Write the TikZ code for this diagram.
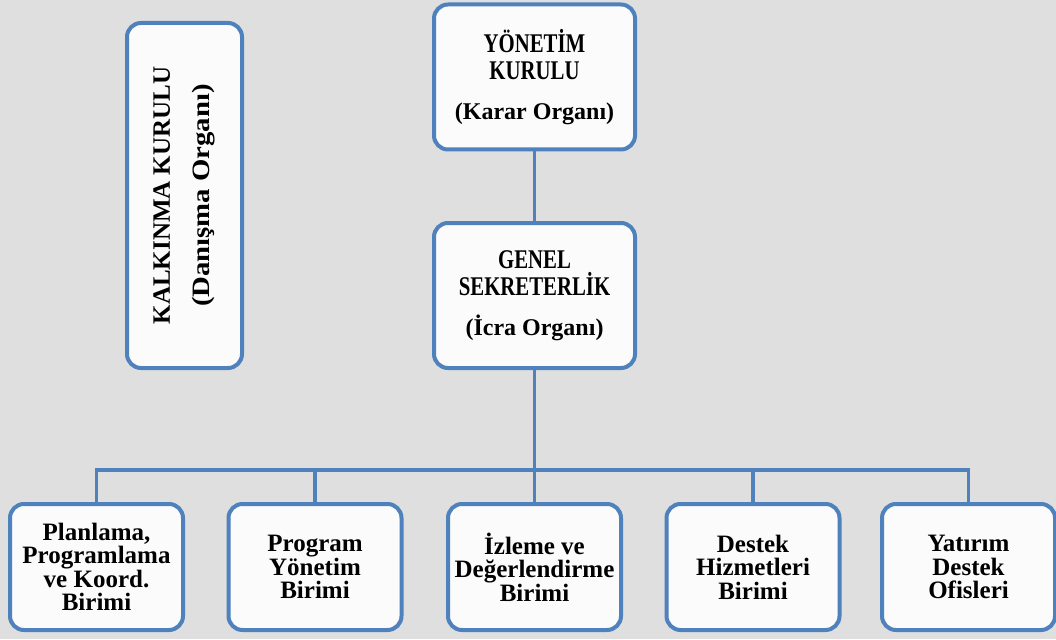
\documentclass[tikz,border=0pt]{standalone}
\usepackage{fontspec}
\setmainfont{Liberation Serif}
\newfontfamily\capsfont{Liberation Serif}[FakeStretch=0.77]
\newfontfamily\widefont{Liberation Serif}[FakeStretch=1.15]
\newcommand{\capsline}[1]{{\capsfont\fontsize{27}{27}\selectfont #1}}
\definecolor{orgblue}{RGB}{79,129,189}
\definecolor{bggray}{RGB}{223,223,223}
\definecolor{boxwhite}{RGB}{251,251,251}
\begin{document}
\begin{tikzpicture}[x=1pt,y=1pt,yscale=-1,xscale=1,
	orgbox/.style={draw=orgblue,line width=4pt,fill=boxwhite,rounded corners=14pt,
		align=center,inner sep=2pt,font=\bfseries\fontsize{24}{27}\selectfont},
	topbox/.style={orgbox,minimum width=201pt,minimum height=145pt},
	unitbox/.style={orgbox,minimum width=173pt,minimum height=126pt,
		font=\bfseries\fontsize{25}{23.5}\selectfont},
	conn/.style={draw=orgblue,line width=3.5pt}]
			%set diagram size 1056 x 639
			\useasboundingbox (0,0) rectangle (1056,639);
			\fill [bggray] (0,0) rectangle (1056,639);
			
			% Text Node
			\node [topbox] (ykurul) at (534.5,77) {\capsline{Y\"ONET\.IM}\\\capsline{KURULU}\\[13pt](Karar Organı)};
			% Text Node
			\node [topbox] (gsek) at (534.5,295.5) {\capsline{GENEL}\\\capsline{SEKRETERL\.IK}\\[13pt](\.Icra Organı)};
			% Text Node
			\node [orgbox,rotate=90,minimum width=345pt,minimum height=115pt,font=\bfseries\fontsize{25}{27}\selectfont] (kkurul) at (184.5,195.5) {KALKINMA KURULU\\[13pt]{\widefont (Danışma Organı)}};
			
			% Text Node
			\node [unitbox] (b1) at (96.5,567) {Planlama,\\Programlama\\ve Koord.\\Birimi};
			% Text Node
			\node [unitbox] (b2) at (315,567) {Program\\Y\"onetim\\Birimi};
			% Text Node
			\node [unitbox] (b3) at (534.5,567) {\.Izleme ve\\De\u{g}erlendirme\\Birimi};
			% Text Node
			\node [unitbox] (b4) at (753,567) {Destek\\Hizmetleri\\Birimi};
			% Text Node
			\node [unitbox] (b5) at (968.5,567) {Yatırım\\Destek\\Ofisleri};
			
			%Straight Lines
			\coordinate (bus) at (534.5,470);
			\draw [conn] (ykurul.south) -- (gsek.north);
			\draw [conn] (gsek.south) -- (bus);
			\foreach \i in {1,...,5}
				\draw [conn] (b\i.north) |- (bus);
			
\end{tikzpicture}
\end{document}
